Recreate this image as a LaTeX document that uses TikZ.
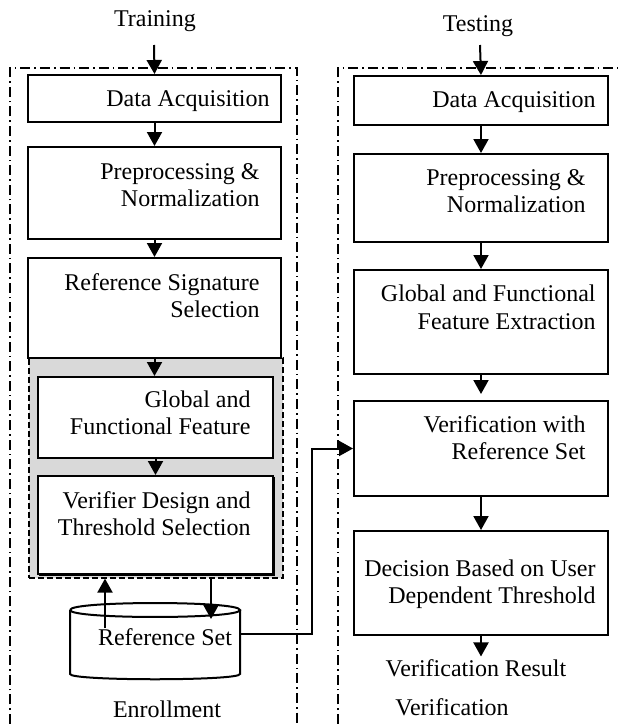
\documentclass[tikz,border=0pt]{standalone}
\usepackage{fontspec}
\setmainfont{Liberation Serif}
\usetikzlibrary{arrows.meta}
\definecolor{panelgray}{HTML}{D9D9D9}
\begin{document}
\begin{tikzpicture}[x=0.5pt,y=-0.5pt,
  every node/.style={font=\fontsize{12}{13.6}\selectfont},
  box/.style={draw, line width=1pt, inner sep=0pt, anchor=north west},
  lbl/.style={inner sep=0pt, align=right, anchor=east},
  txt/.style={inner sep=0pt},
  arr/.style={line width=1pt, -{Triangle[length=7pt,width=7.5pt]}},
  frame/.style={line width=0.7pt, dash pattern=on 5pt off 2pt on 0.8pt off 2pt},
  panel/.style={fill=panelgray, draw, line width=0.8pt, dash pattern=on 3pt off 1.5pt, inner sep=0pt, anchor=north west}
]
\useasboundingbox (0,0) rectangle (618,724);

% stage frames
\draw[frame] (10,724) -- (10,68) -- (297,68) -- (297,724);
\draw[frame] (338,724) -- (338,68) -- (618,68);

% shaded feature/verifier panel
\node[panel, minimum width=127pt, minimum height=110pt] (grp) at (28,357) {};

% training column
\node[box, minimum width=126.5pt, minimum height=23.5pt] (ta1) at (27,74) {};
\node[box, minimum width=126.5pt, minimum height=46pt] (ta2) at (27,146) {};
\node[box, minimum width=126.5pt, minimum height=50pt] (ta3) at (27,257) {};
\node[box, fill=white, minimum width=117.5pt, minimum height=40.5pt] (ta4) at (37,376) {};
\draw[line width=1.2pt] (39,574.5) -- (273.5,574.5) -- (273.5,477);
\node[box, fill=white, minimum width=117.5pt, minimum height=49pt] (ta5) at (37,475) {};

\node[lbl] (ta1t) at (270,101.4) {Data Acquisition};
\node[lbl] (ta2t) at (260,184.8) {Preprocessing \&\\Normalization};
\node[lbl] (ta3t) at (260,295.8) {Reference Signature\\Selection};
\node[lbl] (ta4t) at (251,413) {Global and\\Functional Feature};
\node[lbl] (ta5t) at (251,513.3) {Verifier Design and\\Threshold Selection};

% reference set store
\draw[line width=1pt, fill=white] (70,610) -- (70,674)
  .. controls (70,681) and (240,681) .. (240,674) -- (240,610);
\draw[line width=1pt] (70,610) .. controls (70,600.7) and (240,600.7) .. (240,610)
  .. controls (240,619.3) and (70,619.3) .. (70,610);
\node[txt] (rset) at (165,637) {Reference Set};
\coordinate (cylA) at (105,628);
\coordinate (cylB) at (211,619);
\coordinate (cylE) at (240,634);

\node[txt] (train) at (155,21.4) {Training};
\node[txt] (enroll) at (167,709) {Enrollment};
\coordinate (trainIn) at (154,45);

% testing column
\node[box, minimum width=127pt, minimum height=24.5pt] (tb1) at (353,75) {};
\node[box, minimum width=127pt, minimum height=44pt] (tb2) at (353,153) {};
\node[box, minimum width=127pt, minimum height=52pt] (tb3) at (353,269) {};
\node[box, minimum width=127pt, minimum height=47.5pt] (tb4) at (353,400) {};
\node[box, minimum width=127pt, minimum height=52pt] (tb5) at (353,530) {};

\node[lbl] (tb1t) at (596,102.4) {Data Acquisition};
\node[lbl] (tb2t) at (586,190.8) {Preprocessing \&\\Normalization};
\node[lbl] (tb3t) at (596,307.3) {Global and Functional\\Feature Extraction};
\node[lbl] (tb4t) at (586,437.3) {Verification with\\Reference Set};
\node[lbl] (tb5t) at (596,584.4) {Decision Based on User\\Dependent Threshold};

\node[txt] (test) at (478,26.4) {Testing};
\node[txt, inner sep=1.5pt] (vres) at (476,668.5) {Verification Result};
\node[txt] (verif) at (452,706.8) {Verification};
\coordinate (testIn) at (480,45);

% connectors
\draw[arr] (trainIn) -- (ta1.north);
\draw[arr] (ta1.south) -- (ta2.north);
\draw[arr] (ta2.south) -- (ta3.north);
\draw[arr] (ta3.south) -- (ta3.south |- ta4.north);
\draw[arr] (ta4.south) -- (ta5.north);
\draw[arr] (cylA) -- (cylA |- grp.south);
\draw[arr] (cylB |- grp.south) -- (cylB);
\draw[arr] (cylE) -- ++(72,0) |- (tb4.west);

\draw[arr] (testIn) -- (tb1.north);
\draw[arr] (tb1.south) -- (tb2.north);
\draw[arr] (tb2.south) -- (tb3.north);
\draw[arr, shorten >=3pt] (tb3.south) -- (tb4.north);
\draw[arr] (tb4.south) -- (tb5.north);
\draw[arr] (tb5.south) -- (tb5.south |- vres.north);
\end{tikzpicture}
\end{document}
